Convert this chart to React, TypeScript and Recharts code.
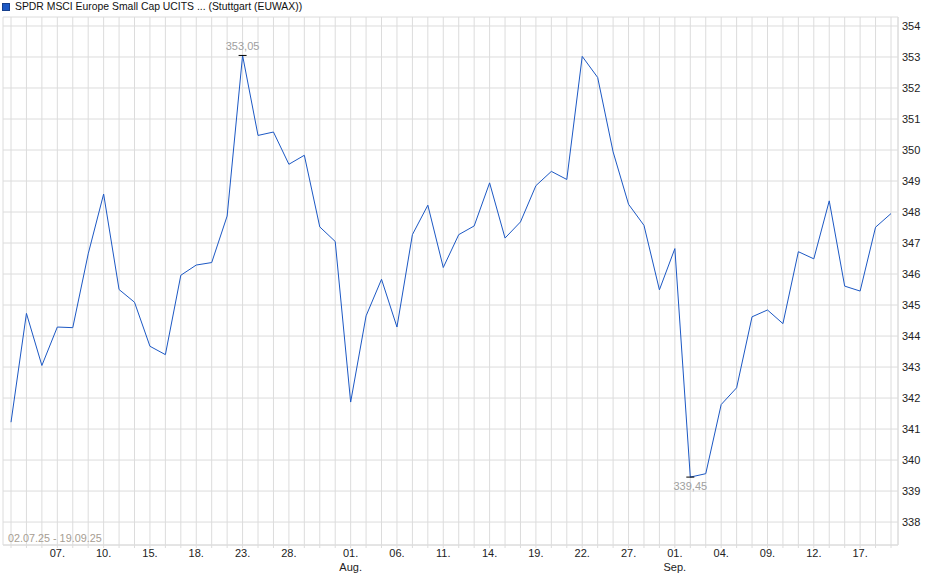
import { LineChart, Line, XAxis, YAxis, CartesianGrid } from 'recharts'

// trading days 02.07.25 - 19.09.25
const dates = [
  '02.07.', '03.07.', '04.07.', '07.07.', '08.07.', '09.07.', '10.07.', '11.07.', '14.07.', '15.07.',
  '16.07.', '17.07.', '18.07.', '21.07.', '22.07.', '23.07.', '24.07.', '25.07.', '28.07.', '29.07.',
  '30.07.', '31.07.', '01.08.', '04.08.', '05.08.', '06.08.', '07.08.', '08.08.', '11.08.', '12.08.',
  '13.08.', '14.08.', '15.08.', '18.08.', '19.08.', '20.08.', '21.08.', '22.08.', '25.08.', '26.08.',
  '27.08.', '28.08.', '29.08.', '01.09.', '02.09.', '03.09.', '04.09.', '05.09.', '08.09.', '09.09.',
  '10.09.', '11.09.', '12.09.', '15.09.', '16.09.', '17.09.', '18.09.', '19.09.',
]

const prices = [
  341.22, 344.73, 343.05, 344.29, 344.27, 346.65, 348.58, 345.5, 345.09, 343.67,
  343.4, 345.96, 346.29, 346.37, 347.87, 353.05, 350.47, 350.58, 349.54, 349.83,
  347.52, 347.05, 341.87, 344.65, 345.83, 344.29, 347.27, 348.22, 346.21, 347.27,
  347.55, 348.94, 347.16, 347.68, 348.85, 349.31, 349.05, 353.02, 352.34, 349.94,
  348.25, 347.57, 345.49, 346.82, 339.45, 339.56, 341.79, 342.33, 344.62, 344.84,
  344.4, 346.72, 346.49, 348.36, 345.61, 345.45, 347.51, 347.95,
]

const labelDates = [
  '07.07.', '10.07.', '15.07.', '18.07.', '23.07.', '28.07.', '01.08.', '06.08.', '11.08.',
  '14.08.', '19.08.', '22.08.', '27.08.', '01.09.', '04.09.', '09.09.', '12.09.', '17.09.',
]
const monthNames: Record<string, string> = { '08': 'Aug.', '09': 'Sep.' }

const yTicks = [338, 339, 340, 341, 342, 343, 344, 345, 346, 347, 348, 349, 350, 351, 352, 353, 354]

const title = 'SPDR MSCI Europe Small Cap UCITS ... (Stuttgart (EUWAX))'
const rangeLabel = '02.07.25 - 19.09.25'

const FONT = '"Liberation Sans", Arial, sans-serif'
const GRID = '#dcdcdc'
const LINE = '#1c58c4'

const chartData = dates.map((d, i) => ({ d, v: prices[i] }))
const maxIdx = prices.indexOf(Math.max(...prices))
const minIdx = prices.indexOf(Math.min(...prices))

const fmt = (v: number) => v.toFixed(2).replace('.', ',')

// eslint-disable-next-line @typescript-eslint/no-explicit-any
function DateTick({ x, y, payload }: any) {
  const d: string = payload.value
  if (!labelDates.includes(d)) return <g />
  const [day, month] = d.split('.')
  return (
    <text x={x} y={y} textAnchor="middle" fontSize={11} fill="#222" fontFamily={FONT}>
      <tspan x={x} dy={7}>{day}.</tspan>
      {day === '01' && monthNames[month] && (
        <tspan x={x} dy={14}>{monthNames[month]}</tspan>
      )}
    </text>
  )
}

// eslint-disable-next-line @typescript-eslint/no-explicit-any
function PriceTick({ x, y, payload }: any) {
  return (
    <text x={x} y={y} dy={4} textAnchor="start" fontSize={11} fill="#222" fontFamily={FONT}>
      {payload.value}
    </text>
  )
}

// marks the high and the low of the period
// eslint-disable-next-line @typescript-eslint/no-explicit-any
function ExtremeDot({ cx, cy, index }: any) {
  if (index !== maxIdx && index !== minIdx) return <g key={index} />
  const isMax = index === maxIdx
  return (
    <g key={index}>
      <line x1={cx - 4} x2={cx + 4} y1={cy} y2={cy} stroke="#000" strokeWidth={1} />
      <text
        x={cx}
        y={isMax ? cy - 5 : cy + 13}
        textAnchor="middle"
        fontSize={11}
        fill="#a0a0a0"
        fontFamily={FONT}
      >
        {fmt(prices[index])}
      </text>
    </g>
  )
}

export default function App() {
  return (
    <div style={{ position: 'relative', width: 940, height: 579, fontFamily: FONT, background: '#fff' }}>
      <style>{'body{margin:0}'}</style>
      <div style={{ position: 'absolute', left: 2, top: 0, display: 'flex', alignItems: 'center', height: 13 }}>
        <span style={{ width: 6, height: 6, background: LINE, border: '1px solid #163f8c', marginRight: 5 }} />
        <span style={{ fontSize: 10.4, color: '#111', lineHeight: '13px' }}>{title}</span>
      </div>
      <LineChart width={940} height={579} data={chartData} margin={{ top: 17, right: 0, bottom: 0, left: 3 }}>
        <CartesianGrid stroke={GRID} yAxisId="p" />
        <XAxis
          dataKey="d"
          interval={0}
          height={34}
          padding={{ left: 8, right: 7 }}
          axisLine={{ stroke: GRID }}
          tickLine={{ stroke: GRID }}
          tickSize={3}
          tickMargin={2}
          tick={<DateTick />}
        />
        <XAxis xAxisId="top" orientation="top" dataKey="d" height={0} tick={false} tickLine={false} axisLine={{ stroke: GRID }} />
        <YAxis
          yAxisId="p"
          orientation="right"
          width={42}
          domain={[337.26, 354.29]}
          ticks={yTicks}
          allowDataOverflow
          axisLine={{ stroke: GRID }}
          tickLine={false}
          tickSize={2}
          tickMargin={2}
          tick={<PriceTick />}
        />
        <YAxis yAxisId="left" orientation="left" width={0} tick={false} tickLine={false} axisLine={{ stroke: GRID }} />
        <Line
          yAxisId="p"
          type="linear"
          dataKey="v"
          stroke={LINE}
          strokeWidth={1}
          dot={<ExtremeDot />}
          activeDot={false}
          isAnimationActive={false}
        />
      </LineChart>
      <div style={{ position: 'absolute', left: 8, top: 532, fontSize: 10.8, lineHeight: '13px', color: '#a69d92' }}>
        {rangeLabel}
      </div>
    </div>
  )
}
